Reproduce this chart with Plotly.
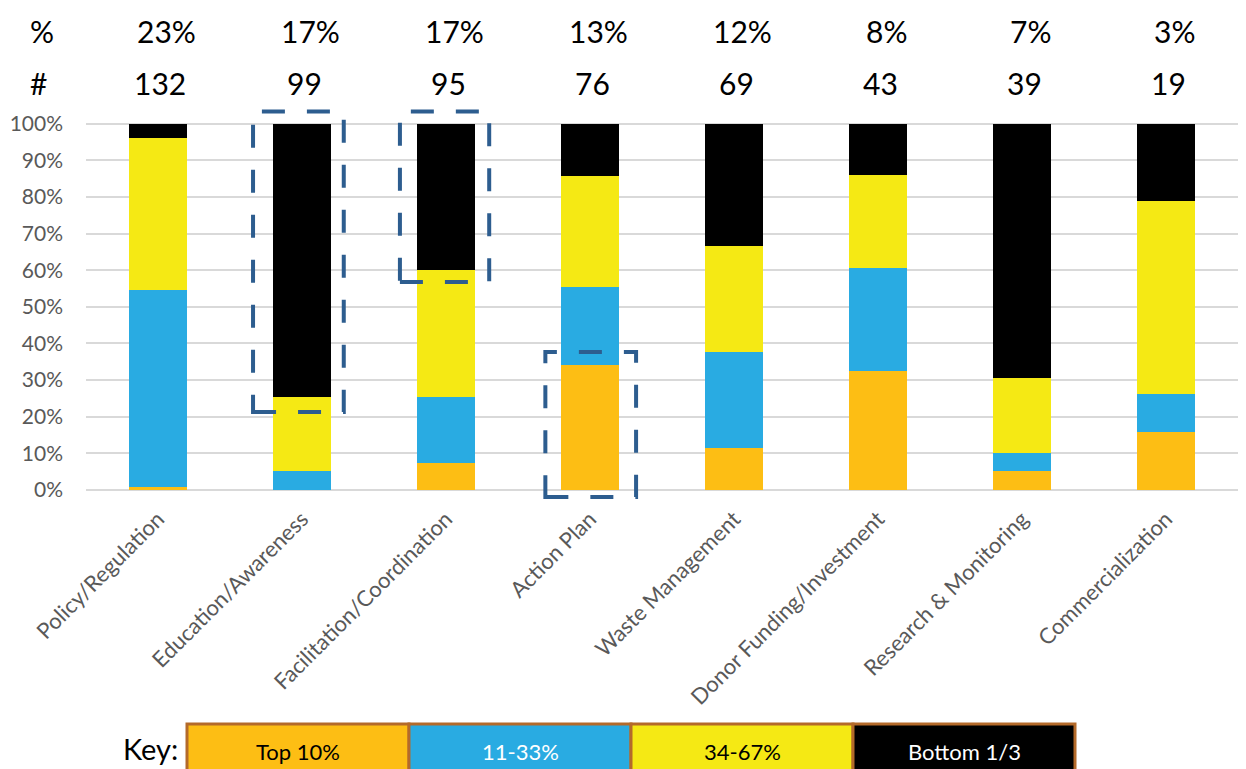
import plotly.graph_objects as go

# Share of initiatives by type, split by ranking band (percent of each column)
categories = [
    "Policy/Regulation", "Education/Awareness", "Facilitation/Coordination",
    "Action Plan", "Waste Management", "Donor Funding/Investment",
    "Research & Monitoring", "Commercialization",
]
top_10 = [0.8, 0.0, 7.4, 34.2, 11.6, 32.6, 5.1, 15.8]
band_11_33 = [53.8, 5.1, 17.9, 21.1, 26.1, 27.9, 5.1, 10.5]
band_34_67 = [41.6, 20.2, 34.7, 30.3, 29.0, 25.6, 20.5, 52.6]
bottom_third = [3.8, 74.7, 40.0, 14.4, 33.3, 13.9, 69.3, 21.1]

share_labels = ["23%", "17%", "17%", "13%", "12%", "8%", "7%", "3%"]
count_labels = ["132", "99", "95", "76", "69", "43", "39", "19"]

band_names = ["Top 10%", "11-33%", "34-67%", "Bottom 1/3"]
band_colors = ["#FDBE14", "#29ABE2", "#F5E914", "#000000"]
band_text_colors = ["#000000", "#FFFFFF", "#000000", "#FFFFFF"]
y_ticks = list(range(0, 101, 10))

FONT = "Lato"
W, H = 1246, 769
M_L, M_R, M_T, M_B = 86, 8, 109, 268
PLOT_W = W - M_L - M_R
PLOT_H = H - M_T - M_B
PLOT_BOTTOM = H - M_B


def px_x(px):
    return (px - M_L) / PLOT_W


def px_y(py):
    return (PLOT_BOTTOM - py) / PLOT_H


def label(text, x, y, size, color="#000000", xref="paper", xshift=0):
    return dict(text=text, xref=xref, yref="paper", x=x, y=y, xshift=xshift,
                xanchor="center", yanchor="middle", showarrow=False,
                font=dict(family=FONT, size=size, color=color))


fig = go.Figure()
for name, vals, color in zip(band_names,
                             [top_10, band_11_33, band_34_67, bottom_third],
                             band_colors):
    fig.add_trace(go.Bar(
        x=categories, y=vals, name=name, marker=dict(color=color, line=dict(width=0)),
        showlegend=False, hoverinfo="x+y",
    ))

# Dashed highlight boxes: (category index, left offset, right offset, y bottom, y top)
highlights = [
    (1, -0.34, 0.29, 21.3, 103.3),
    (2, -0.32, 0.30, 56.8, 103.3),
    (3, -0.31, 0.32, -1.9, 37.7),
]
shapes = []
for idx, dl, dr, yb, yt in highlights:
    shapes.append(dict(
        type="rect", xref="x", yref="y", x0=idx + dl, x1=idx + dr, y0=yb, y1=yt,
        line=dict(color="#2D5D8F", width=4, dash="23px,22px"),
        fillcolor="rgba(0,0,0,0)", layer="above",
    ))

annotations = []
# Header rows: share of total and count
annotations.append(label("%", px_x(42), px_y(31), 30))
annotations.append(label("#", px_x(38), px_y(83), 30))
for i, (s, c) in enumerate(zip(share_labels, count_labels)):
    annotations.append(label(s, i, px_y(31), 30, xref="x", xshift=8))
    annotations.append(label(c, i, px_y(83), 30, xref="x", xshift=2))

# Key row at the bottom
key_left, key_cell = 187, 222
annotations.append(label("Key:", px_x(150), px_y(748), 29))
for i, (name, color, tcol) in enumerate(zip(band_names, band_colors, band_text_colors)):
    x0 = key_left + i * key_cell
    shapes.append(dict(
        type="rect", xref="paper", yref="paper",
        x0=px_x(x0), x1=px_x(x0 + key_cell), y0=px_y(724), y1=px_y(790),
        fillcolor=color, line=dict(color="#B46A2A", width=3), layer="above",
    ))
    annotations.append(label(name, px_x(x0 + key_cell / 2), px_y(751), 22, color=tcol))

fig.update_layout(
    width=W, height=H, autosize=False,
    margin=dict(l=M_L, r=M_R, t=M_T, b=M_B, pad=0),
    paper_bgcolor="white", plot_bgcolor="white",
    barmode="stack", bargap=0.6,
    font=dict(family=FONT, color="#595959"),
    shapes=shapes, annotations=annotations,
    xaxis=dict(
        type="category", tickangle=-45, showgrid=False, showline=False, zeroline=False,
        ticks="", tickfont=dict(family=FONT, size=22, color="#595959"),
        range=[-0.5, 7.5],
    ),
    yaxis=dict(
        range=[-3, 104], tickvals=y_ticks, ticktext=[f"{v}%" for v in y_ticks],
        showgrid=True, gridcolor="#D9D9D9", gridwidth=1.5, zeroline=False, showline=False,
        tickfont=dict(family=FONT, size=21, color="#595959"), ticklabelstandoff=22,
    ),
)

fig.write_html("out.html")
